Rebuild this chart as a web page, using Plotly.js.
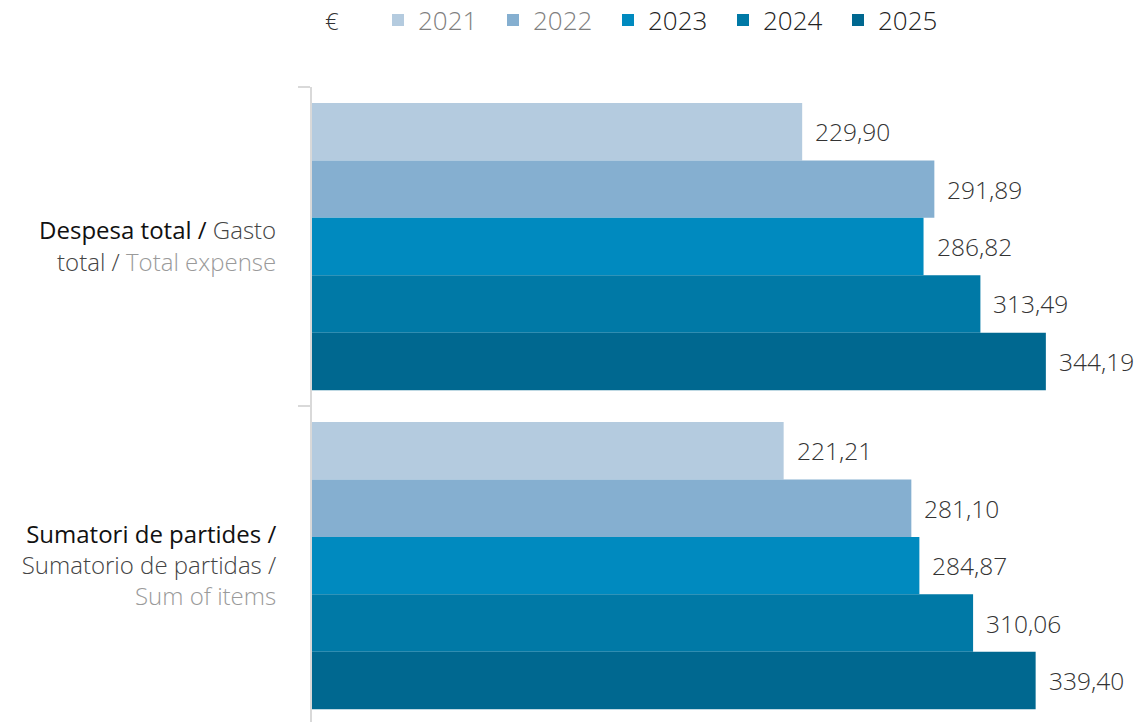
<!DOCTYPE html>
<html>
<head>
<meta charset="utf-8">
<script src="https://cdn.plot.ly/plotly-3.0.1.min.js"></script>
<style>html,body{margin:0;padding:0;background:#fff;}#chart{width:1135px;height:722px;}</style>
</head>
<body>
<div id="chart"></div>
<script>
const categories = ['Despesa total', 'Sumatori de partides'];
const categoryLabels = [
  '<span style="color:#111;font-weight:400">Despesa total /</span><span style="color:#444"> Gasto</span><br><span style="color:#444">total / </span><span style="color:#9a9a9a">Total expense</span>',
  '<span style="color:#111;font-weight:400">Sumatori de partides /</span><br><span style="color:#444">Sumatorio de partidas /</span><br><span style="color:#9a9a9a">Sum of items</span>'
];
const years = ['2021', '2022', '2023', '2024', '2025'];
const values2021 = [229.90, 221.21];
const values2022 = [291.89, 281.10];
const values2023 = [286.82, 284.87];
const values2024 = [313.49, 310.06];
const values2025 = [344.19, 339.40];
const series = [values2021, values2022, values2023, values2024, values2025];
const colors = ['#b4cbdf', '#85afd0', '#008abf', '#0079a6', '#006890'];
const legendColors = ['#7f7f7f', '#7f7f7f', '#222', '#222', '#222'];

const FONT = 'Open Sans, Noto Sans, sans-serif';
const W = 300;

const traces = series.map((vals, i) => ({
  type: 'bar',
  orientation: 'h',
  name: '<span style="color:' + legendColors[i] + '">' + years[i] + '</span>',
  x: vals,
  y: categories,
  marker: {color: colors[i]},
  hoverinfo: 'x'
}));

const n = years.length;
const bargap = 0.1;
const w = (1 - bargap) / n;
const annotations = [];
series.forEach((vals, i) => {
  vals.forEach((v, c) => {
    annotations.push({
      x: v, y: c + (-(1 - bargap) / 2 + w / 2 + w * i),
      xref: 'x', yref: 'y',
      text: v.toFixed(2).replace('.', ','),
      showarrow: false, xanchor: 'left', yanchor: 'middle', xshift: 11,
      font: {family: FONT, size: 24.5, color: '#333', weight: W}
    });
  });
});
annotations.push({
  x: (323 - 312) / 823, y: 1 + (87 - 21) / 635, xref: 'paper', yref: 'paper', text: '€', showarrow: false,
  xanchor: 'left', yanchor: 'middle',
  font: {family: FONT, size: 24, color: '#333', weight: W}
});

const layout = {
  width: 1135, height: 722,
  margin: {l: 312, r: 0, t: 87, b: 0},
  paper_bgcolor: '#fff', plot_bgcolor: '#fff',
  font: {family: FONT, size: 24, color: '#333', weight: W},
  barmode: 'group', bargap: bargap, bargroupgap: 0,
  showlegend: true,
  legend: {
    orientation: 'h', x: 378 / 1135, xref: 'container', xanchor: 'left',
    y: 1 - 20 / 722, yref: 'container', yanchor: 'middle',
    font: {family: FONT, size: 26, color: '#222', weight: W},
    entrywidth: 70,
    traceorder: 'normal', itemclick: false
  },
  xaxis: {range: [0, 386], visible: false, fixedrange: true},
  yaxis: {
    type: 'category',
    range: [1.49, -0.5],
    tickmode: 'array', tickvals: categories, ticktext: categoryLabels,
    tickson: 'boundaries', ticks: 'outside', ticklen: 12, tickcolor: '#d9d9d9', tickwidth: 2,
    ticklabelstandoff: 29,
    showline: true, linecolor: '#d9d9d9', linewidth: 2,
    showgrid: false, zeroline: false,
    tickfont: {family: FONT, size: 24, color: '#333', weight: W},
    fixedrange: true
  },
  annotations: annotations
};

Plotly.newPlot('chart', traces, layout, {displayModeBar: false});
</script>
</body>
</html>
